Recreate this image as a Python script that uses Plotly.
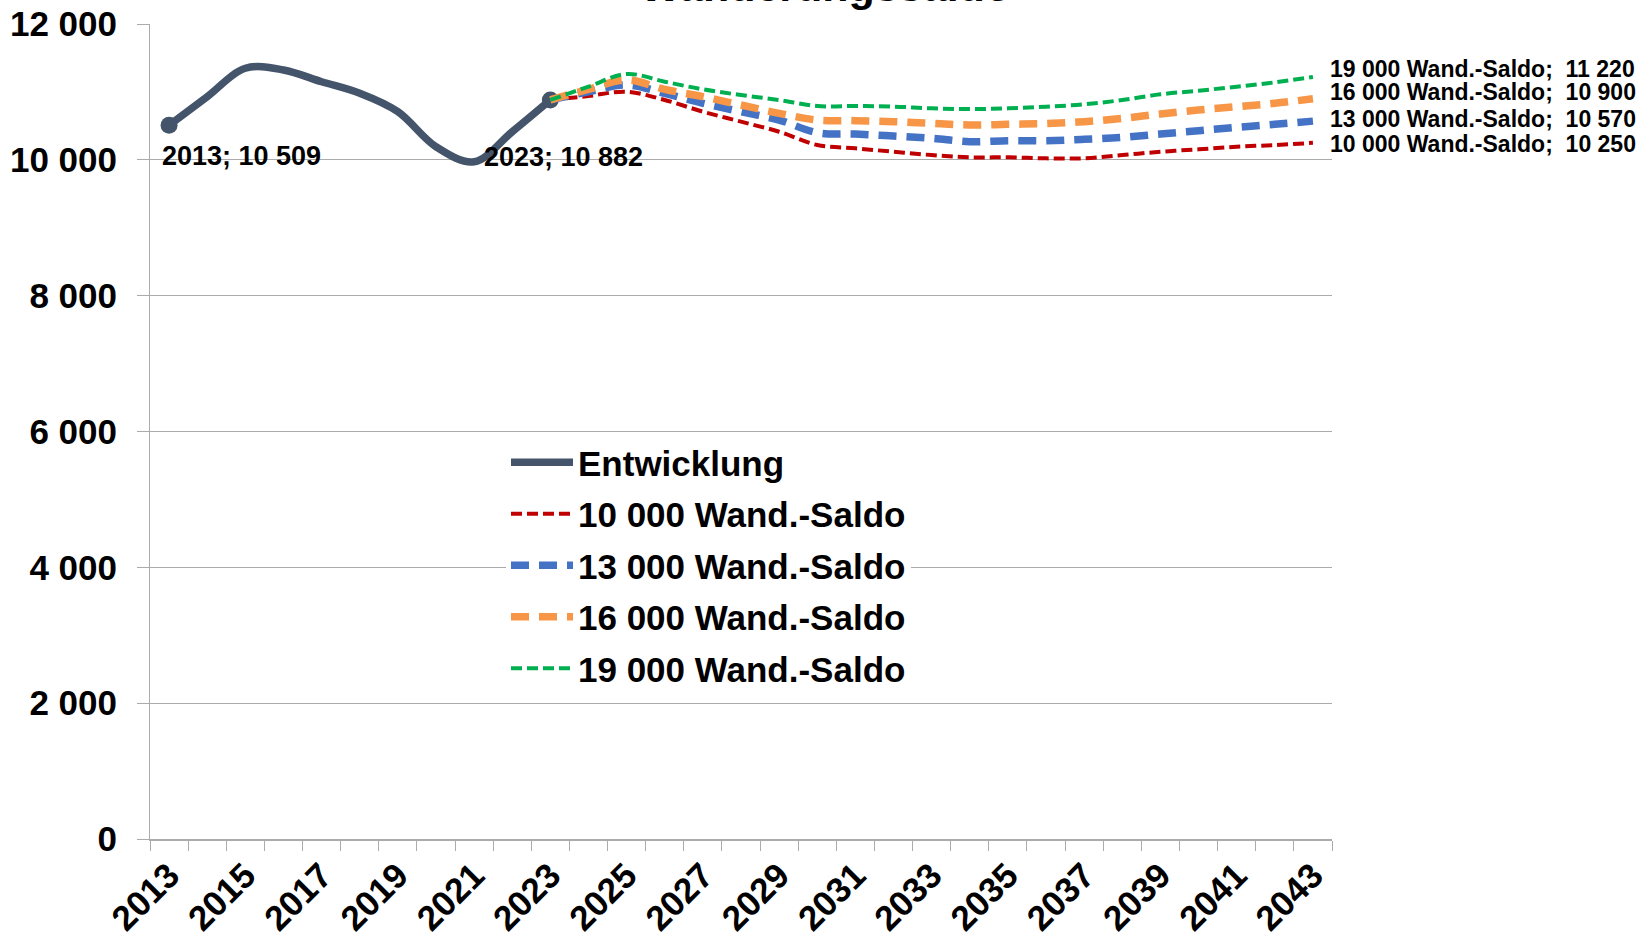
import plotly.graph_objects as go

# Entwicklung (observed) 2013-2023
hist_years = list(range(2013, 2024))
hist_values = [10509, 10929, 11348, 11323, 11150, 10980, 10709, 10193, 9972, 10414, 10882]

# Projection scenarios 2023-2043
proj_years = list(range(2023, 2044))
saldo_10000 = [10882, 10940, 11003, 10881, 10709, 10562, 10414, 10218, 10169, 10119, 10070,
               10037, 10037, 10022, 10022, 10070, 10119, 10155, 10193, 10218, 10250]
saldo_13000 = [10882, 11003, 11102, 10979, 10832, 10709, 10586, 10399, 10380, 10350, 10317,
               10267, 10282, 10282, 10302, 10331, 10380, 10429, 10478, 10523, 10570]
saldo_16000 = [10882, 11038, 11175, 11038, 10930, 10807, 10685, 10586, 10577, 10562, 10537,
               10513, 10523, 10533, 10562, 10611, 10675, 10734, 10782, 10832, 10900]
saldo_19000 = [10882, 11077, 11264, 11150, 11038, 10954, 10881, 10792, 10792, 10784, 10758,
               10748, 10758, 10782, 10817, 10881, 10965, 11018, 11077, 11141, 11220]

series_names = ["10 000 Wand.-Saldo", "13 000 Wand.-Saldo", "16 000 Wand.-Saldo", "19 000 Wand.-Saldo"]
year_ticks = list(range(2013, 2044, 2))
y_ticks = [0, 2000, 4000, 6000, 8000, 10000, 12000]

FONT = "Liberation Sans, Arial, sans-serif"
GRID = "#ABABAB"

# plot area in pixels
PL, PR, PT, PB = 150, 1332, 24, 839
PW, PH = PR - PL, PB - PT


def fmt(v):
    return f"{v:,}".replace(",", " ")


fig = go.Figure()

fig.add_trace(go.Scatter(
    x=hist_years, y=hist_values, mode="lines", name="Entwicklung",
    line=dict(color="#44546A", width=7.5, shape="spline", smoothing=1.0),
    legendgroup="g0",
))
fig.add_trace(go.Scatter(
    x=[hist_years[0], hist_years[-1]], y=[hist_values[0], hist_values[-1]],
    mode="markers", marker=dict(color="#44546A", size=17), showlegend=False,
    hoverinfo="skip",
))

styles = [
    dict(color="#C00000", width=4, dash="11px,5px"),
    dict(color="#4472C4", width=7.5, dash="18px,10px"),
    dict(color="#F79646", width=7.5, dash="18px,10px"),
    dict(color="#00B050", width=4, dash="11px,5px"),
]
scenarios = [saldo_10000, saldo_13000, saldo_16000, saldo_19000]
for i, (name, vals, st) in enumerate(zip(series_names, scenarios, styles)):
    fig.add_trace(go.Scatter(
        x=proj_years, y=vals, mode="lines", name=name,
        line=dict(shape="spline", smoothing=1.0, **st),
        legendgroup=f"g{i + 1}",
    ))

# Value labels on the observed series
for yr, val, xs, ys in [(hist_years[0], hist_values[0], -9, -31),
                        (hist_years[-1], hist_values[-1], -68, -57)]:
    fig.add_annotation(
        x=yr, y=val, text=f"{yr}; {fmt(val)}", showarrow=False,
        xanchor="left", yanchor="middle", xshift=xs, yshift=ys,
        font=dict(family=FONT, size=27, color="black", weight="bold"),
    )

# End labels on the projection series
end_shift = [-1, 2, 7, 8]
for name, vals, ys in zip(series_names, scenarios, end_shift):
    fig.add_annotation(
        x=proj_years[-1], y=vals[-1], text=f"{name};\u00a0 {fmt(vals[-1])}", showarrow=False,
        xanchor="left", yanchor="middle", xshift=15, yshift=ys,
        font=dict(family=FONT, size=23, color="black", weight="bold"),
    )

# Chart title (sits at the very top edge)
fig.add_annotation(
    x=(825 - PL) / PW, xref="paper", y=1.047, yref="paper", text="Wanderungssaldo",
    showarrow=False, xanchor="center", yanchor="middle",
    font=dict(family=FONT, size=43, color="black", weight="bold"),
)

fig.update_layout(
    width=1647, height=942,
    margin=dict(l=PL, r=1647 - PR, t=PT, b=942 - PB, autoexpand=False),
    paper_bgcolor="white", plot_bgcolor="white",
    font=dict(family=FONT, color="black"),
    showlegend=True,
    legend=dict(
        x=(506 - PL) / PW, y=(PB - 433) / PH, xanchor="left", yanchor="top",
        bgcolor="white", borderwidth=0, tracegroupgap=3, itemwidth=62,
        font=dict(family=FONT, size=35, color="black", weight="bold"),
    ),
    xaxis=dict(
        range=[2012.5, 2043.5], tickmode="array", tickvals=year_ticks,
        ticktext=[str(y) for y in year_ticks], tickangle=-45, ticks="",
        showgrid=False, zeroline=False, showline=True, linecolor=GRID, linewidth=1.5,
        automargin=False,
        tickfont=dict(family=FONT, size=35, color="black", weight="bold"),
        minor=dict(tickmode="linear", tick0=2012.5, dtick=1, ticks="outside",
                   ticklen=10, tickcolor=GRID, tickwidth=1, showgrid=False),
    ),
    yaxis=dict(
        range=[0, 12000], tickmode="array", tickvals=y_ticks,
        ticktext=[fmt(v) for v in y_ticks], ticks="outside", ticklen=12,
        tickcolor=GRID, showgrid=True, gridcolor=GRID, gridwidth=1,
        zeroline=False, showline=True, linecolor=GRID, linewidth=1,
        automargin=False, ticklabelstandoff=13,
        tickfont=dict(family=FONT, size=35, color="black", weight="bold"),
    ),
)

fig.write_html("out.html")
